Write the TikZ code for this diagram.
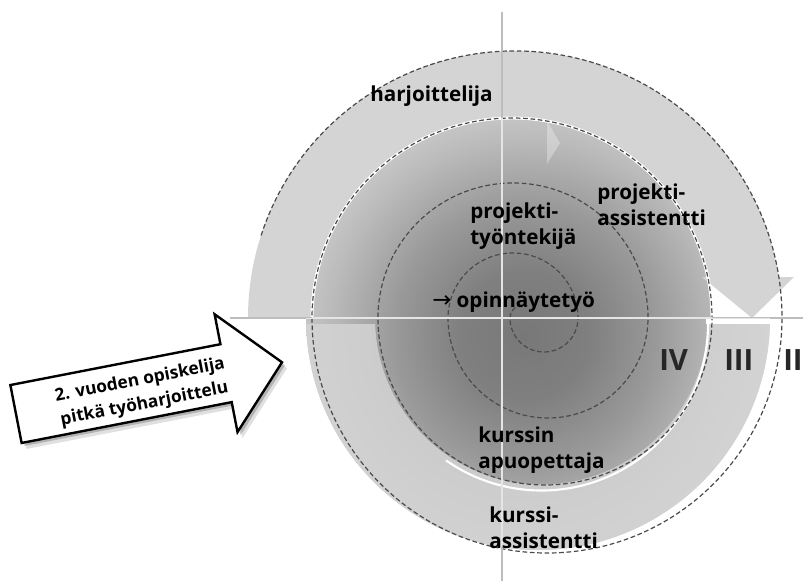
\documentclass[tikz,border=0pt]{standalone}
\usepackage{fontspec}
\setmainfont{Open Sans}
\newfontfamily\arrowfont{DejaVu Sans}
\usetikzlibrary{positioning}
\definecolor{bandgrey}{HTML}{D4D4D4}
\definecolor{axisgrey}{HTML}{BDBDBD}
\definecolor{spiralgrey}{HTML}{4A4A4A}
\pgfdeclareradialshading{coreglow}{\pgfpoint{0bp}{0bp}}{color(0bp)=(black!53); color(5bp)=(black!50); color(10bp)=(black!40); color(15bp)=(black!27); color(20bp)=(black!16); color(24bp)=(black!11); color(50bp)=(black!11)}

\tikzset{
  role/.style={font=\bfseries\fontsize{15.5}{19.5}\selectfont, align=left, inner sep=0pt, anchor=north west},
  phase/.style={font=\bfseries\fontsize{22}{26}\selectfont, inner sep=0pt, anchor=base west, text=black!85},
  spiralline/.style={draw=spiralgrey, line width=0.9pt, dash pattern=on 3.5pt off 2pt},
  gap/.style={draw=white, line width=2.2pt},
  corepath/.style={insert path={(312,318) arc[start angle=180,end angle=360,radius=200] -- (770,318) arc[start angle=0,end angle=180,radius=232] -- cycle}},
  blockarrow/.style={insert path={(0,-29.5) -- (214,-29.5) -- (214,-60) -- (271,0) -- (214,60) -- (214,29.5) -- (0,29.5) -- cycle}},
}

\begin{document}
\begin{tikzpicture}[x=0.75pt,y=0.75pt,yscale=-1,xscale=1]
	\useasboundingbox (0,0) rectangle (803,581);
	% shaded core
	\begin{scope}
		\clip[corepath];
		\shade[shading=coreglow] (525,335) circle (325);
	\end{scope}
	% lower band
	\begin{scope}
		\clip (0,324) rectangle (803,581);
		\fill[bandgrey, fill opacity=0.85] (708,318) -- (770,318) arc[start angle=0,end angle=180,radius=232] -- (375,318) arc[start angle=180,end angle=0,radius=166.5] -- cycle;
	\end{scope}
	\draw[gap, line width=1.6pt] (708,324) arc[start angle=0,end angle=125,radius=166.5];
	% upper band with arrow head
	\fill[bandgrey] (248,318) arc[start angle=180,end angle=351.2,radius=267] -- (794,277) -- (752,318) -- (702,277) -- (708,277) arc[start angle=348.2,end angle=180,radius=200] -- cycle;
	\draw[gap] (312,318) arc[start angle=180,end angle=360,radius=200];
	\fill[white, fill opacity=0.3] (547,121) -- (560,143) -- (547,164) -- cycle;
	\fill[white] (706,319) rectangle (776,324);
	% spiral
	\draw[spiralline] (515,318) ++(198:267) arc[start angle=198,end angle=360,radius=267]
		arc[start angle=0,end angle=180,radius=235]
		arc[start angle=180,end angle=360,radius=200]
		arc[start angle=0,end angle=180,radius=167]
		arc[start angle=180,end angle=360,radius=135]
		arc[start angle=0,end angle=180,radius=100]
		arc[start angle=180,end angle=360,radius=65]
		arc[start angle=0,end angle=180,radius=34]
		arc[start angle=180,end angle=290,radius=13];
	% axes
	\draw[axisgrey, line width=2.2pt] (502,12) -- (502,581);
	\draw[axisgrey, line width=2.2pt] (230,318) -- (803,318);
	\begin{scope}
		\clip[corepath];
		\draw[white!90!black, line width=2.2pt] (502,12) -- (502,581);
		\draw[white!90!black, line width=2.2pt] (230,318) -- (803,318);
	\end{scope}
	% labels
	\node[role] (harj) at (370,86) {harjoittelija};
	\node[role] (projass) at (597,184) {projekti-\\assistentti};
	\node[role] (projtyo) at (470,203) {projekti-\\työntekijä};
	\node[role] (thesis) at (432,292) {{\arrowfont\mdseries\fontsize{17}{19.5}\selectfont →} opinnäytetyö};
	\node[role] (apuop) at (478,427) {kurssin\\apuopettaja};
	\node[role] (kurssi) at (489,507) {kurssi-\\assistentti};
	\node[phase] (four) at (659,370) {IV};
	\node[phase] (three) at (724,370) {III};
	\node[phase] (two) at (783,370) {II};
	% entry arrow
	\begin{scope}[shift={(21,420)}, rotate=-11]
		\fill[black, opacity=0.12][blockarrow];
	\end{scope}
	\begin{scope}[shift={(19,417)}, rotate=-11]
		\fill[black, opacity=0.2][blockarrow];
	\end{scope}
	\begin{scope}[shift={(16,414)}, rotate=-11]
		\draw[fill=white, line width=1.8pt][blockarrow];
		\node[font=\bfseries\fontsize{13}{18}\selectfont, align=center, rotate=11, inner sep=0pt] (entry) at (128,3) {2. vuoden opiskelija\\pitkä työharjoittelu};
	\end{scope}
\end{tikzpicture}
\end{document}
